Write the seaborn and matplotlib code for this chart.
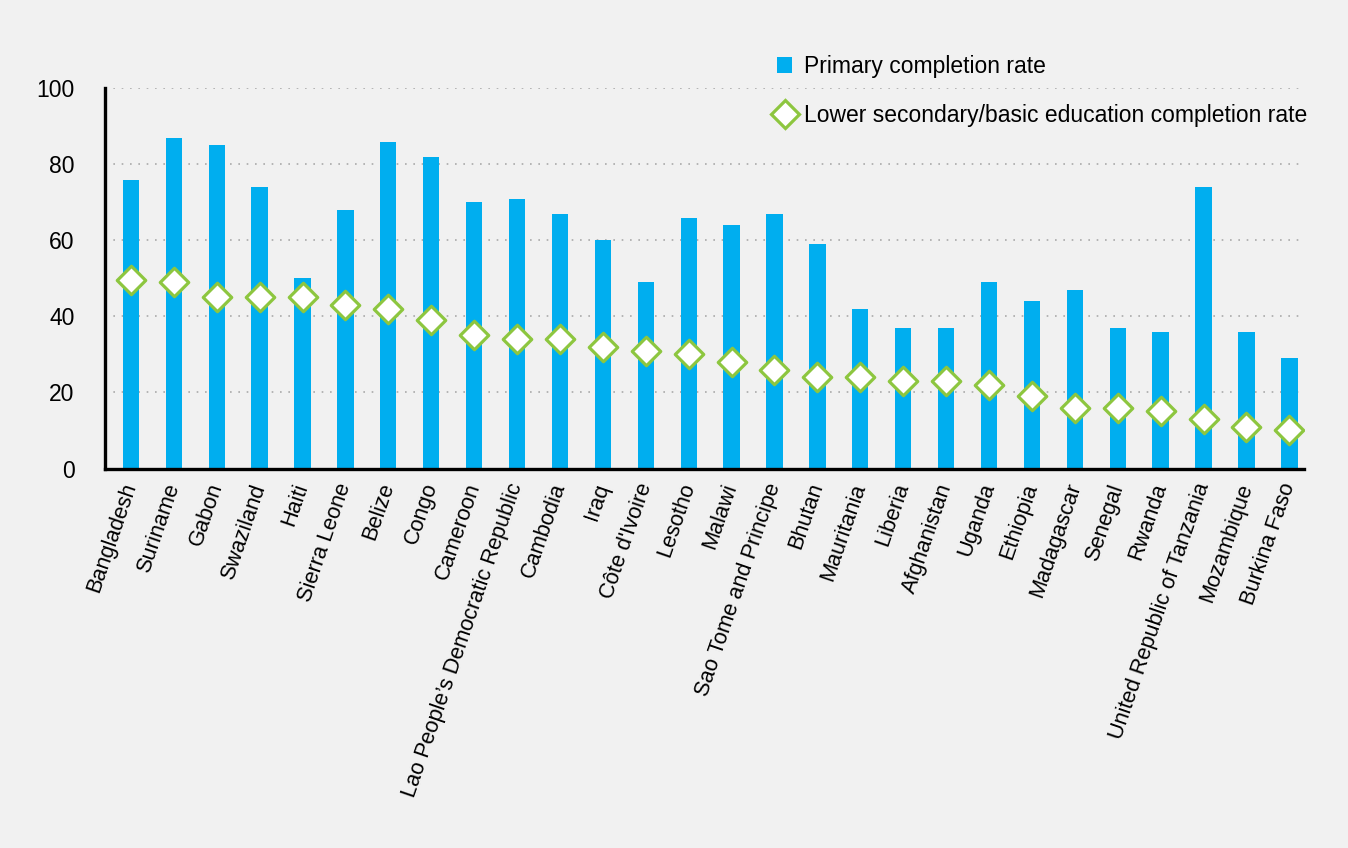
import numpy as np
import pandas as pd
import seaborn as sns
import matplotlib.pyplot as plt
from matplotlib.patches import Patch
from matplotlib.lines import Line2D

# Données
countries = ["Bangladesh", "Suriname", "Gabon", "Swaziland", "Haiti", "Sierra Leone",
             "Belize", "Congo", "Cameroon", "Lao People\u2019s Democratic Republic",
             "Cambodia", "Iraq", "Côte d'Ivoire", "Lesotho", "Malawi",
             "Sao Tome and Principe", "Bhutan", "Mauritania", "Liberia", "Afghanistan",
             "Uganda", "Ethiopia", "Madagascar", "Senegal", "Rwanda",
             "United Republic of Tanzania", "Mozambique", "Burkina Faso"]
primary = [76, 87, 85, 74, 50, 68, 86, 82, 70, 71, 67, 60, 49, 66, 64,
           67, 59, 42, 37, 37, 49, 44, 47, 37, 36, 74, 36, 29]
lower_secondary = [49.5, 49, 45, 45, 45, 43, 42, 39, 35, 34, 34, 32, 31, 30, 28,
                   26, 24, 24, 23, 23, 22, 19, 16, 16, 15, 13, 11, 10]
yticks = [0, 20, 40, 60, 80, 100]

label_primary = "Primary completion rate"
label_lower = "Lower secondary/basic education completion rate"

blue = "#00aeef"
green = "#8dc63f"
bg = "#f1f1f1"
fs = 16.5

df = pd.DataFrame({"country": countries, "primary": primary, "lower": lower_secondary})

sns.set_style("white")
plt.rcParams["font.family"] = ["Liberation Sans", "DejaVu Sans"]
plt.rcParams["text.color"] = "black"
plt.rcParams["xtick.color"] = "black"
plt.rcParams["ytick.color"] = "black"

fig = plt.figure(figsize=(13.48, 8.48), dpi=100, facecolor=bg)
ax = fig.add_axes([0.078, 0.4475, 0.889, 0.4484])
ax.set_facecolor(bg)

sns.barplot(data=df, x="country", y="primary", color=blue, saturation=1,
            width=0.38, linewidth=0, ax=ax, zorder=2)
sns.stripplot(data=df, x="country", y="lower", marker="D", size=14.5, jitter=False,
              color="white", edgecolor=green, linewidth=2.3, ax=ax, zorder=3)

ax.set_ylim(0, 100)
ax.set_xlim(-0.6, len(countries) - 1 + 0.33)
ax.set_yticks(yticks)
ax.set_xlabel("")
ax.set_ylabel("")

# grille pointillée
for y in yticks[1:]:
    ax.axhline(y, color="#aaaaaa", lw=1.2, linestyle=(0, (1, 4)), zorder=1)

for s in ["top", "right"]:
    ax.spines[s].set_visible(False)
for s in ["left", "bottom"]:
    ax.spines[s].set_color("black")
    ax.spines[s].set_linewidth(2.4)
    ax.spines[s].set_zorder(4)

ax.tick_params(axis="y", length=0, pad=22, labelsize=fs, labelcolor="black")
ax.tick_params(axis="x", length=0, pad=11, labelsize=15.7, labelcolor="black")
for lab in ax.get_xticklabels():
    lab.set_rotation(71)
    lab.set_rotation_mode("anchor")
    lab.set_ha("right")
    lab.set_va("center")

handles = [Patch(facecolor=blue, edgecolor="none"),
           Line2D([], [], marker="D", linestyle="none", markersize=14,
                  markerfacecolor="white", markeredgecolor=green, markeredgewidth=2.3)]
fig.legend(handles, [label_primary, label_lower], loc="upper left",
           bbox_to_anchor=(777 / 1348, 1 - 55 / 848), frameon=False, fontsize=fs,
           handlelength=0.66, handleheight=0.75, handletextpad=0.5, labelspacing=1.15,
           borderpad=0, borderaxespad=0)

fig.savefig("out.png", dpi=100, facecolor=bg)
